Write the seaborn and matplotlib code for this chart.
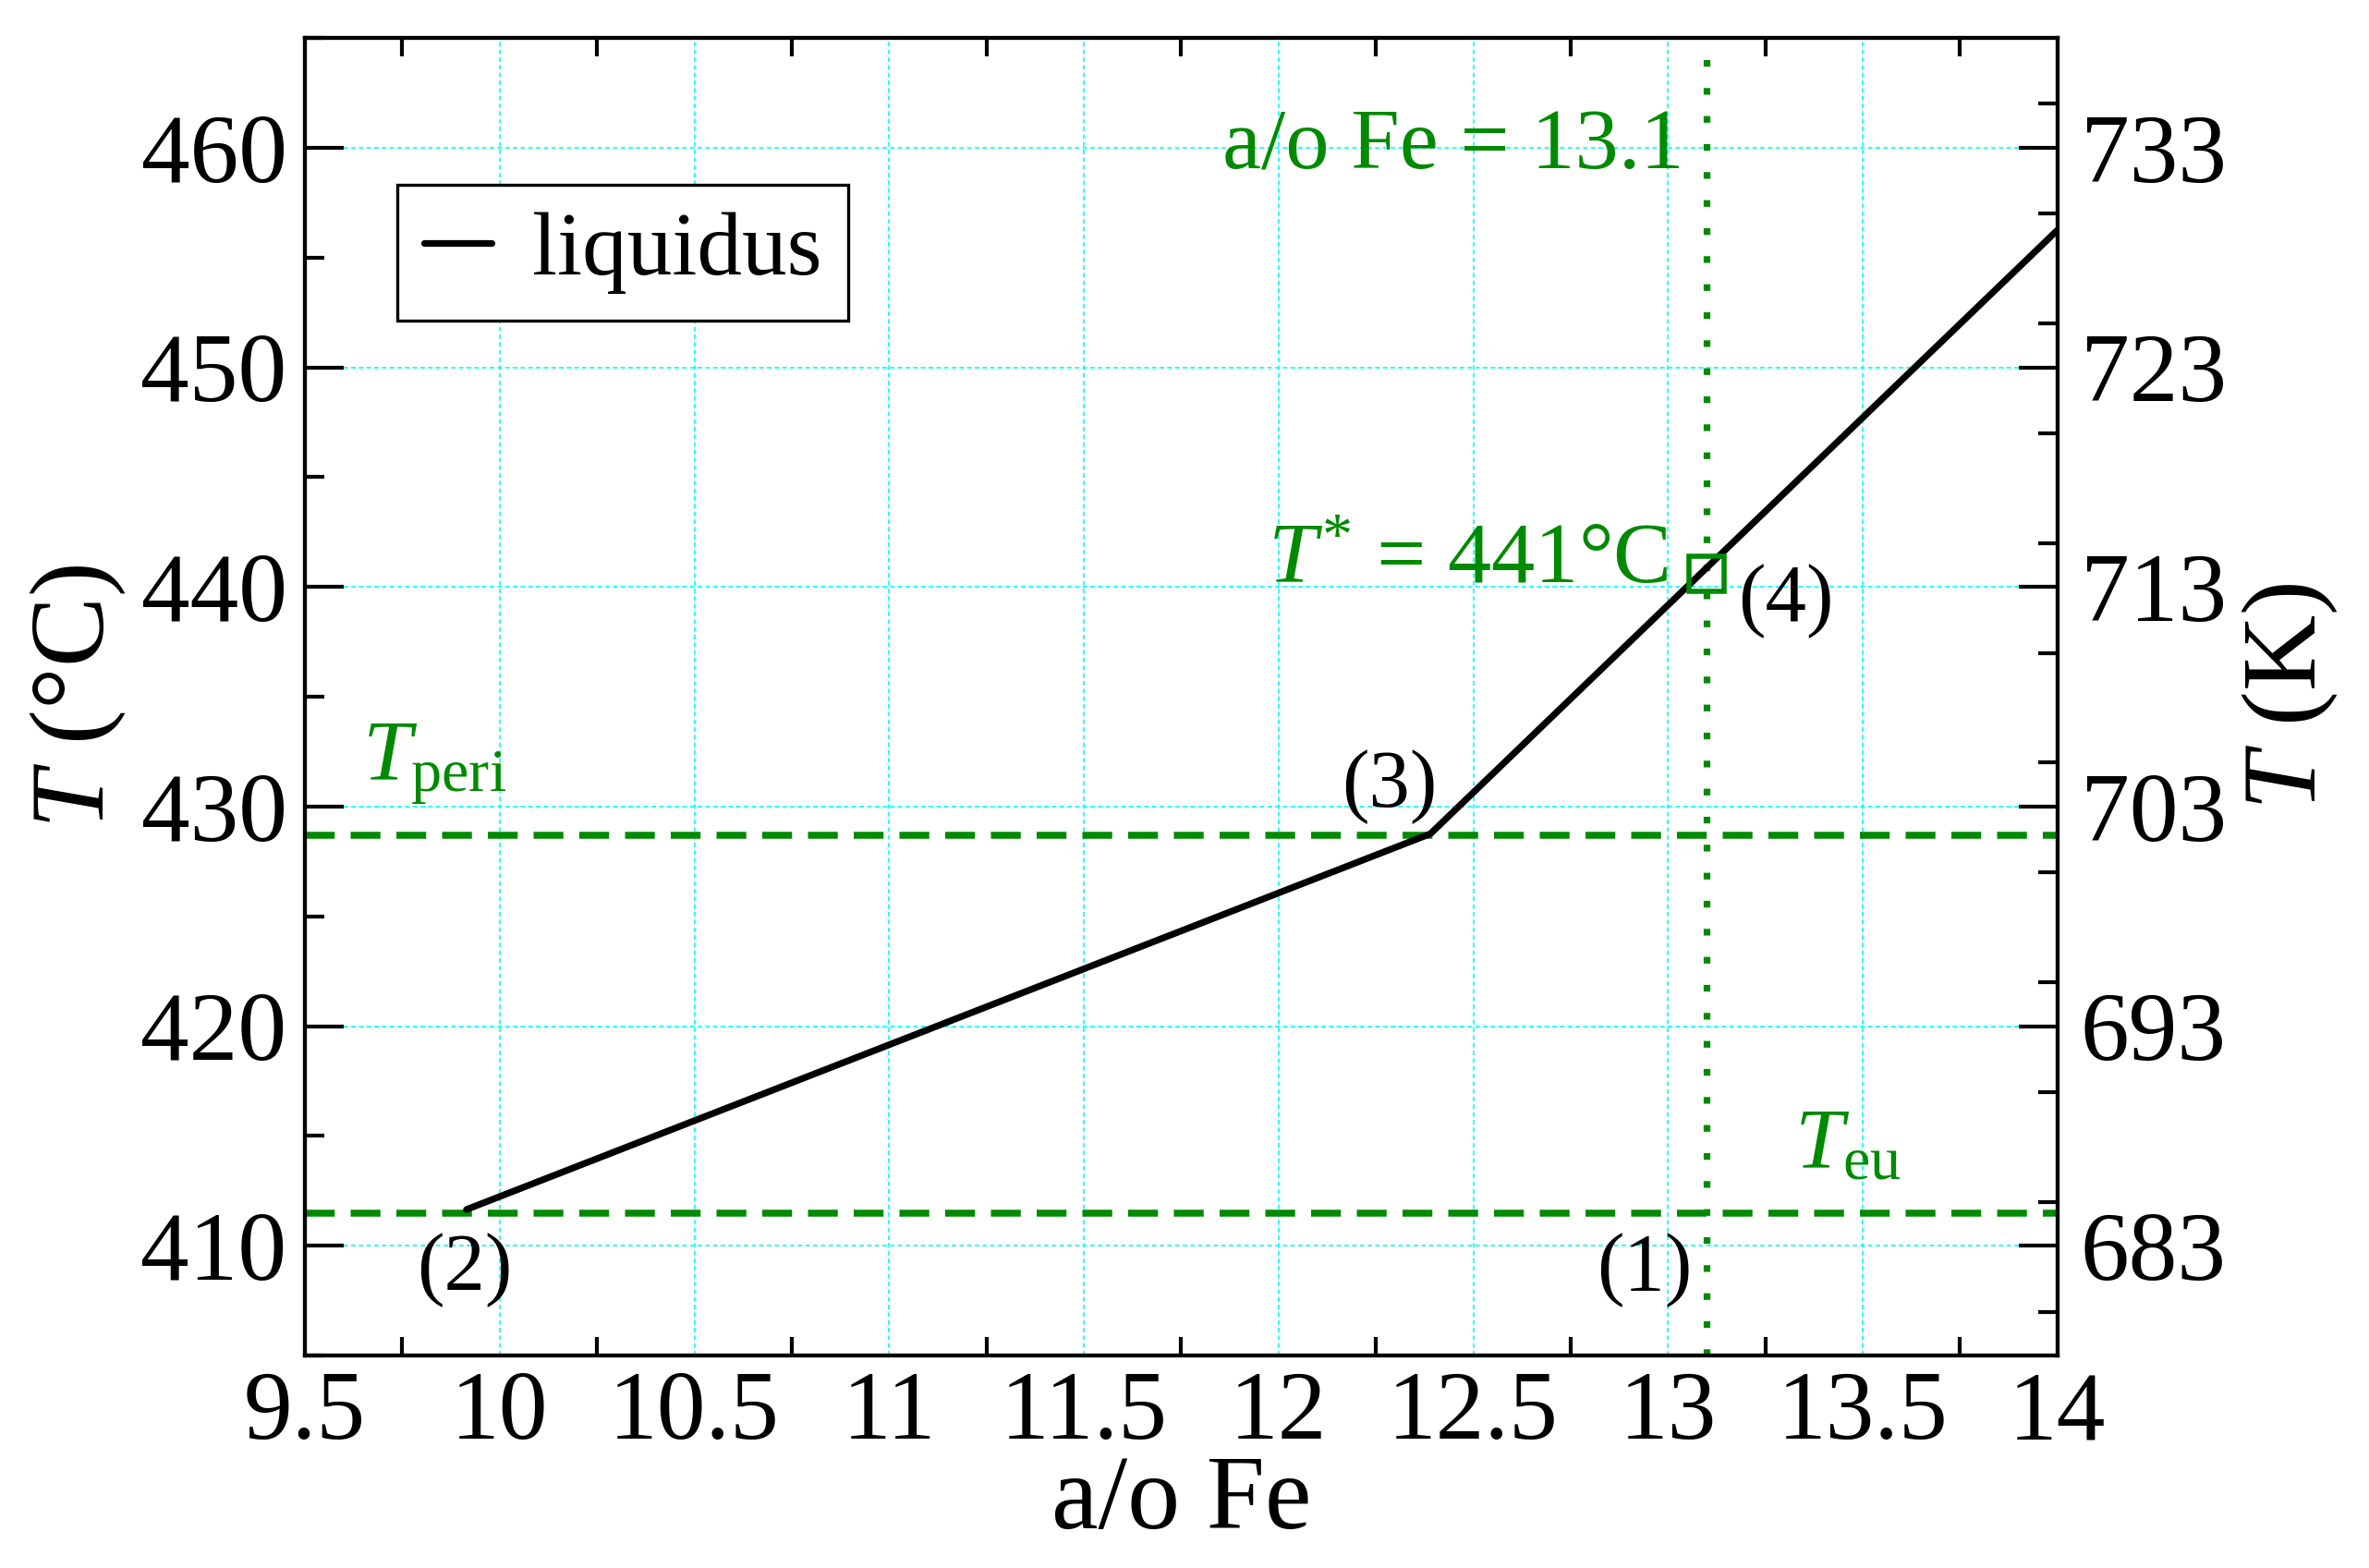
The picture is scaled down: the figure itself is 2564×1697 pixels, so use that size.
import numpy as np
import pandas as pd
import seaborn as sns
import matplotlib
matplotlib.use("Agg")
import matplotlib.pyplot as plt
from matplotlib.ticker import FixedLocator, MultipleLocator

# liquidus line
liq_x = [9.915, 12.39, 14.0]
liq_t = [411.65, 428.76, 456.25]

t_peri = 428.7
t_eu = 411.5
fe_star = 13.1
t_star = 440.6

x_ticks = [9.5, 10, 10.5, 11, 11.5, 12, 12.5, 13, 13.5, 14]
x_labels = ["9.5", "10", "10.5", "11", "11.5", "12", "12.5", "13", "13.5", "14"]
y_ticks = [410, 420, 430, 440, 450, 460]
kelvin_offset = 273

green = "#008a00"

sns.set_style("ticks")
plt.rcParams["font.family"] = ["Liberation Serif", "DejaVu Serif"]
plt.rcParams["mathtext.fontset"] = "custom"
plt.rcParams["mathtext.rm"] = "Liberation Serif"
plt.rcParams["mathtext.it"] = "Liberation Serif:italic"
plt.rcParams["axes.linewidth"] = 1.5
for k in ["text.color", "axes.labelcolor", "xtick.color", "ytick.color",
          "axes.edgecolor"]:
    plt.rcParams[k] = "black"

fig = plt.figure(figsize=(12.82, 8.485), dpi=200)
ax = fig.add_axes([0.1287, 0.1355, 0.7398, 0.8403])

df = pd.DataFrame({"x": liq_x, "T": liq_t})
sns.lineplot(data=df, x="x", y="T", ax=ax, color="black", lw=2.6,
             label="liquidus", zorder=4)

ax.axhline(t_peri, color=green, lw=2.7, ls=(0, (4.3, 2.3)), zorder=3)
ax.axhline(t_eu, color=green, lw=2.7, ls=(0, (4.3, 2.3)), zorder=3)
ax.axvline(fe_star, color=green, lw=2.6, ls=(0, (1, 3.2)),
           dash_capstyle="butt", zorder=3)
ax.plot([fe_star], [t_star], marker="s", ms=13.5, mfc="none", mec=green,
        mew=2.0, ls="none", zorder=5)

ax.set_xlim(9.5, 14)
ax.set_ylim(405, 465)

ax.xaxis.set_major_locator(FixedLocator(x_ticks))
ax.set_xticklabels(x_labels)
ax.xaxis.set_minor_locator(FixedLocator(np.arange(9.75, 14, 0.5)))
ax.yaxis.set_major_locator(FixedLocator(y_ticks))
ax.yaxis.set_minor_locator(MultipleLocator(5))

ax.tick_params(axis="x", which="major", length=0, pad=6, labelsize=38)
ax.tick_params(axis="x", which="minor", direction="in", length=7.2, width=1.5,
               top=True, bottom=True)
ax.tick_params(axis="y", which="major", direction="in", length=15, width=1.5,
               pad=7, labelsize=38, right=False)
ax.tick_params(axis="y", which="minor", direction="in", length=7.5, width=1.5,
               right=False)

ax.grid(which="major", color="cyan", lw=0.6, ls=(0, (3, 2)))
ax.set_axisbelow(True)

ax.set_xlabel("a/o Fe", fontsize=41, labelpad=-2)
ax.set_ylabel(r"$T$ (°C)", fontsize=41, labelpad=5)

ax2 = ax.twinx()
ax2.set_ylim(405 + kelvin_offset, 465 + kelvin_offset)
ax2.yaxis.set_major_locator(FixedLocator([t + kelvin_offset for t in y_ticks]))
ax2.yaxis.set_minor_locator(MultipleLocator(5))
ax2.tick_params(axis="y", which="major", direction="in", length=15, width=1.5,
                pad=9, labelsize=38)
ax2.tick_params(axis="y", which="minor", direction="in", length=7.5, width=1.5)
ax2.set_ylabel(r"$T$ (K)", fontsize=41, rotation=90, labelpad=5)

leg = ax.legend(loc="upper left", bbox_to_anchor=(0.0527, 0.8885),
                borderaxespad=0, fontsize=35, handlelength=0.75,
                handletextpad=0.45, borderpad=0.3, fancybox=False,
                framealpha=1, edgecolor="black")
leg.get_frame().set_linewidth(1.2)

ax.text(13.04, 460, "a/o Fe = 13.1", color=green, fontsize=34,
        ha="right", va="center")
ax.text(13.0, 440.2, r"$T^{*}$ = 441°C", color=green, fontsize=34,
        ha="right", va="baseline")
ax.text(9.647, 431.2, r"$T_{\rm peri}$", color=green, fontsize=34,
        ha="left", va="baseline")
ax.text(13.325, 413.5, r"$T_{\rm eu}$", color=green, fontsize=34,
        ha="left", va="baseline")

ax.text(13.18, 439.35, "(4)", fontsize=32, ha="left", va="center")
ax.text(12.285, 430.9, "(3)", fontsize=32, ha="center", va="center")
ax.text(9.91, 408.9, "(2)", fontsize=32, ha="center", va="center")
ax.text(12.94, 408.9, "(1)", fontsize=32, ha="center", va="center")

fig.savefig("out.png", dpi=200)
